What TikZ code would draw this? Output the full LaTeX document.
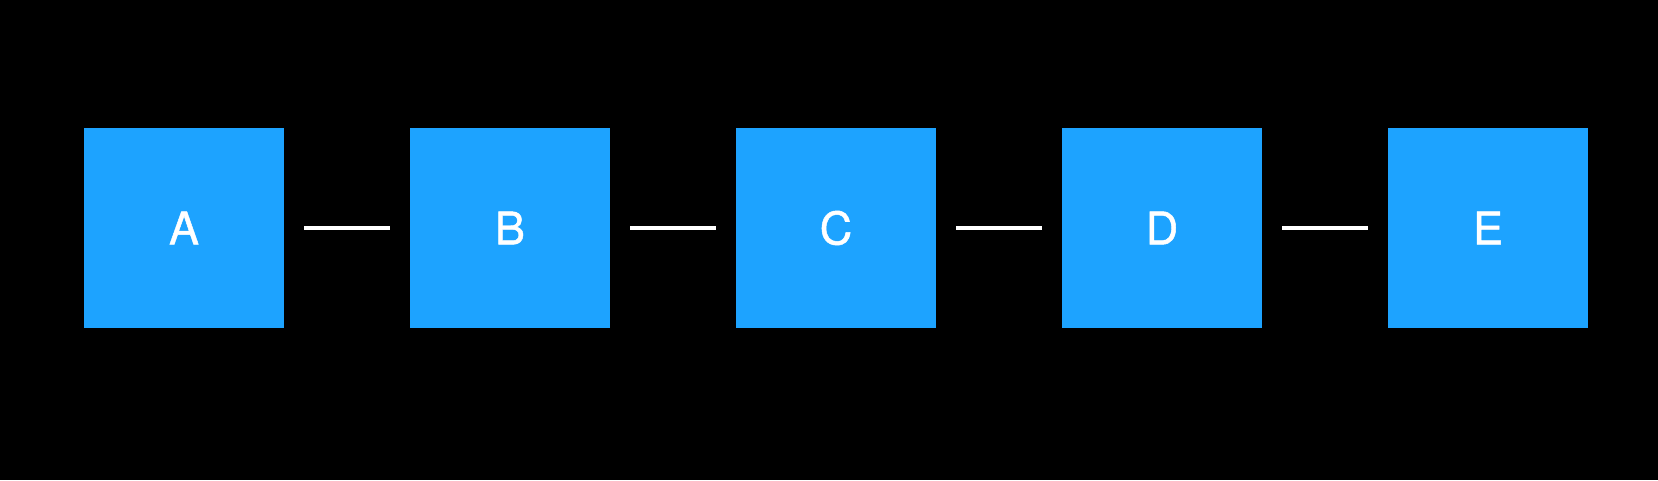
\documentclass[tikz,border=0pt]{standalone}
\usepackage{fontspec}
\setmainfont{TeX Gyre Heros}
\newfontfamily\labelfont[FakeBold=1.0]{TeX Gyre Heros}
\definecolor{boxblue}{RGB}{29,163,255}
\begin{document}
\begin{tikzpicture}[x=1pt,y=1pt,
  blockbox/.style={fill=boxblue,draw=none,minimum width=200pt,minimum height=200pt,inner sep=0pt,text=white,font=\labelfont\fontsize{45}{54}\selectfont},
  link/.style={white,line width=4pt,shorten <=20pt,shorten >=20pt}]
\fill[black] (0,0) rectangle (1658,480);
\useasboundingbox (0,0) rectangle (1658,480);
\node[blockbox] (a) at (184,252) {A};
\node[blockbox] (b) at (510,252) {B};
\node[blockbox] (c) at (836,252) {C};
\node[blockbox] (d) at (1162,252) {D};
\node[blockbox] (e) at (1488,252) {E};
\draw[link] (a) -- (b);
\draw[link] (b) -- (c);
\draw[link] (c) -- (d);
\draw[link] (d) -- (e);
\end{tikzpicture}
\end{document}
